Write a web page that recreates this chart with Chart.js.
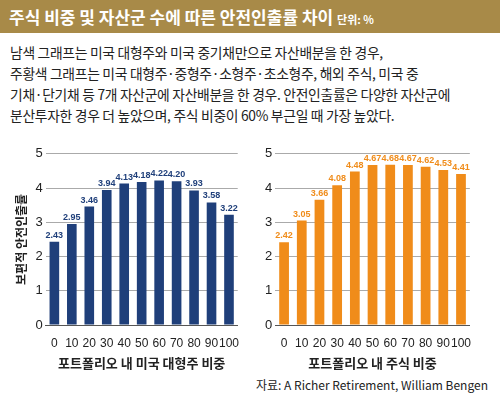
<!DOCTYPE html>
<html><head><meta charset="utf-8">
<script src="https://cdn.jsdelivr.net/npm/chart.js@4"></script>
<style>
body{margin:0;width:500px;height:402px;background:#fff;font-family:"Noto Sans CJK KR",sans-serif;position:relative;overflow:hidden}
#title{position:absolute;left:0;top:0;width:500px;height:33px;background:#a88a48;color:#fff;font-size:17px;line-height:33px;padding-left:9px;box-sizing:border-box;font-weight:bold}
#title span{font-size:11px}
#desc{position:absolute;left:10px;top:42px;width:490px;font-size:13.8px;line-height:21px;color:#222;letter-spacing:-0.3px}
.c{position:absolute;top:143px;height:232px}
#src{position:absolute;right:12px;top:376px;font-size:12px;color:#222}
</style></head><body>
<div id="title">주식 비중 및 자산군 수에 따른 안전인출률 차이 <span>단위: %</span></div>
<div id="desc">남색 그래프는 미국 대형주와 미국 중기채만으로 자산배분을 한 경우,<br>주황색 그래프는 미국 대형주·중형주·소형주·초소형주, 해외 주식, 미국 중<br>기채·단기채 등 7개 자산군에 자산배분을 한 경우. 안전인출률은 다양한 자산군에<br>분산투자한 경우 더 높았으며, 주식 비중이 60% 부근일 때 가장 높았다.</div>
<div class="c" style="left:10px;width:232px"><canvas id="a"></canvas></div>
<div class="c" style="left:262px;width:212px"><canvas id="b"></canvas></div>
<div id="src">자료: A Richer Retirement, William Bengen</div>
<script>
const categories = ["0","10","20","30","40","50","60","70","80","90","100"];
const usLargeCap = [2.43,2.95,3.46,3.94,4.13,4.18,4.22,4.20,3.93,3.58,3.22];
const sevenAssets = [2.42,3.05,3.66,4.08,4.48,4.67,4.68,4.67,4.62,4.53,4.41];

const labelPlugin = {
  id: 'vals',
  afterDatasetsDraw(chart) {
    const ctx = chart.ctx;
    const ds = chart.data.datasets[0];
    chart.getDatasetMeta(0).data.forEach((bar, i) => {
      ctx.save();
      ctx.fillStyle = ds.labelColor;
      ctx.font = 'bold 9px "Liberation Sans", Arial';
      ctx.textAlign = 'center';
      ctx.textBaseline = 'bottom';
      ctx.fillText(ds.data[i].toFixed(2), bar.x, bar.y - 2);
      ctx.restore();
    });
  }
};

function makeChart(id, data, color, labelColor, xTitle, yTitle) {
  new Chart(document.getElementById(id), {
    type: 'bar',
    data: { labels: categories, datasets: [{ data: data, backgroundColor: color, labelColor: labelColor, barPercentage: 0.58, categoryPercentage: 0.95 }] },
    options: {
      animation: false, responsive: true, maintainAspectRatio: false,
      plugins: { legend: { display: false }, tooltip: { enabled: false } },
      layout: { padding: { top: 4 } },
      scales: {
        x: { grid: { display: false }, border: { color: '#555' },
             ticks: { color: '#222', font: { size: 12, family: '"Liberation Sans", Arial' }, maxRotation: 0, autoSkip: false },
             title: { display: true, text: xTitle, color: '#222', font: { size: 13, weight: 'bold', family: '"Noto Sans CJK KR"' }, padding: { top: 2 } } },
        y: { min: 0, max: 5, ticks: { stepSize: 1, color: '#222', font: { size: 13, family: '"Liberation Sans", Arial' } },
             grid: { color: '#aaa', drawTicks: false }, border: { display: false },
             title: { display: !!yTitle, text: yTitle, color: '#222', font: { size: 12, weight: 'bold', family: '"Noto Sans CJK KR"' } } }
      }
    },
    plugins: [labelPlugin]
  });
}
makeChart('a', usLargeCap, '#1f3f7a', '#1f3f7a', '포트폴리오 내 미국 대형주 비중', '보편적 안전인출률');
makeChart('b', sevenAssets, '#f08c1a', '#f08c1a', '포트폴리오 내 주식 비중', '');
</script>
</body></html>
